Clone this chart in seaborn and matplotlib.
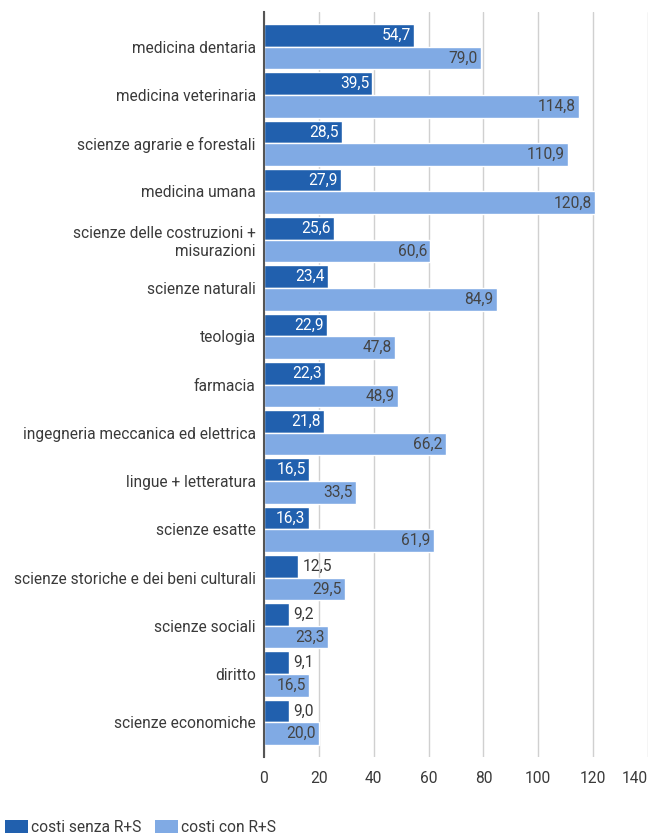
import matplotlib
matplotlib.use("Agg")
import matplotlib.pyplot as plt
import seaborn as sns
import pandas as pd
from matplotlib.patches import Patch

categories = [
    "medicina dentaria", "medicina veterinaria", "scienze agrarie e forestali",
    "medicina umana", "scienze delle costruzioni +\nmisurazioni", "scienze naturali",
    "teologia", "farmacia", "ingegneria meccanica ed elettrica",
    "lingue + letteratura", "scienze esatte",
    "scienze storiche e dei beni culturali", "scienze sociali", "diritto",
    "scienze economiche",
]
senza = [54.7, 39.5, 28.5, 27.9, 25.6, 23.4, 22.9, 22.3, 21.8, 16.5, 16.3, 12.5, 9.2, 9.1, 9.0]
con = [79.0, 114.8, 110.9, 120.8, 60.6, 84.9, 47.8, 48.9, 66.2, 33.5, 61.9, 29.5, 23.3, 16.5, 20.0]
series = ["costi senza R+S", "costi con R+S"]
xticks = [0, 20, 40, 60, 80, 100, 120, 140]

dark = "#2160AE"
light = "#80AAE4"
FS = 11.2
TXT = "#3a3a3a"

df = pd.DataFrame({
    "cat": categories * 2,
    "val": senza + con,
    "serie": [series[0]] * len(categories) + [series[1]] * len(categories),
})

sns.set_theme(style="white")
plt.rcParams["font.family"] = ["Roboto", "DejaVu Sans"]

fig = plt.figure(figsize=(6.49, 8.35), dpi=100)
ax = fig.add_axes([264 / 649, 1 - 757 / 835, (648 - 264) / 649, (757 - 12) / 835])

sns.barplot(data=df, y="cat", x="val", hue="serie", order=categories,
            hue_order=series, palette=[dark, light], orient="h",
            width=0.94, gap=0, saturation=1, ax=ax, legend=False, zorder=3)

ax.set_xlim(0, 140)
ax.set_ylim(14.72, -0.72)
ax.set_xticks(xticks)
ax.set_xticklabels([str(t) for t in xticks], fontsize=FS, color=TXT)
lbls = ax.get_xticklabels()
lbls[-1].set_horizontalalignment("right")
ax.tick_params(axis="x", length=0, pad=10)
ax.tick_params(axis="y", length=0, pad=6)
ax.set_yticks(range(len(categories)))
ax.set_yticklabels(categories, fontsize=FS, color=TXT)
ax.set_xlabel("")
ax.set_ylabel("")
ax.xaxis.grid(True, color="#D0D0D0", linewidth=1, zorder=0)
ax.yaxis.grid(False)
for s in ["top", "right", "bottom"]:
    ax.spines[s].set_visible(False)
ax.spines["left"].set_color("#555555")
ax.spines["left"].set_linewidth(1.5)
ax.spines["left"].set_zorder(5)

def fmt(v):
    return f"{v:.1f}".replace(".", ",")

for cont, vals, kind in zip(ax.containers, [senza, con], ["d", "l"]):
    for bar, v in zip(cont, vals):
        y = bar.get_y() + bar.get_height() / 2
        if kind == "d":
            if v >= 14:
                ax.text(v - 1.2, y, fmt(v), ha="right", va="center", color="white",
                        fontsize=FS, zorder=6)
            else:
                ax.text(v + 1.5, y, fmt(v), ha="left", va="center", color=TXT,
                        fontsize=FS, zorder=6)
        else:
            ax.text(v - 1.2, y, fmt(v), ha="right", va="center", color="#444444",
                    fontsize=FS, zorder=6)

handles = [Patch(facecolor=dark, edgecolor="none"), Patch(facecolor=light, edgecolor="none")]
fig.legend(handles, series, loc="lower left", bbox_to_anchor=(0.008, 0.0),
           ncol=2, frameon=False, handlelength=1.45, handleheight=0.9,
           handletextpad=0.2, columnspacing=0.9, borderaxespad=0, borderpad=0,
           labelcolor=TXT,
           prop={"family": ["Roboto", "DejaVu Sans"], "size": FS})

fig.savefig("out.png", dpi=100)
